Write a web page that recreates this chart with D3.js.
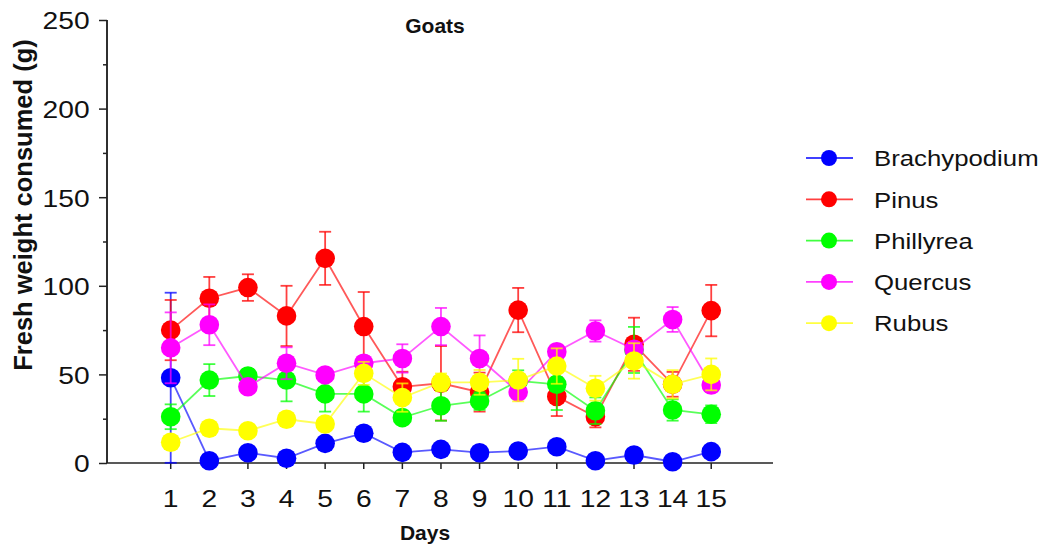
<!DOCTYPE html>
<html><head><meta charset="utf-8">
<script src="https://cdn.jsdelivr.net/npm/d3@7/dist/d3.min.js"></script>
<style>body{margin:0;background:#fff}svg{display:block}</style>
</head><body>
<svg id="c" width="1045" height="546"></svg>
<script>
const days = [1,2,3,4,5,6,7,8,9,10,11,12,13,14,15];
const seriesNames = ["Brachypodium","Pinus","Phillyrea","Quercus","Rubus"];
const seriesColors = ["#0000ff","#ff0000","#00ff00","#ff00ff","#ffff00"];
const brachypodium    = [48.1,1.3,5.8,2.7,11.1,16.8,6.0,7.7,5.8,6.8,9.2,1.3,4.5,0.7,6.4];
const brachypodiumErr = [48,2,2,2,2,2,2,2,2,2,2,2,2,2,2];
const pinus    = [75,93,99,83,115.5,77,43,45,40,86.3,37.5,26.1,67,44.4,86];
const pinusErr = [17,12,7.5,17,15,19.5,8.5,21,11,12.5,11,6,15,7,14.5];
const phillyrea    = [26.1,46.8,49.1,46.8,39,39,25.6,32.3,35,46.3,44.4,29.5,63.8,29.9,27.5];
const phillyreaErr = [7,9,4,12,10,10,4,8.5,5,6,14.5,7.5,13,6,5];
const quercus    = [65,78,43,56.3,49.7,56.3,59,77,59,40,62.8,74.5,64.2,81,44];
const quercusErr = [20,11.5,3,9,3,4,8,10.5,13,3,4,6,4,7,4];
const rubus    = [11.7,19.6,18.2,24.7,22,50.6,36.9,45.5,45.5,46.8,54.7,42.2,57.6,44.4,50];
const rubusErr = [2,2,2,2,2,6.5,8,5,7,12,10,7,10,8,9];
const yTicks = [0,50,100,150,200,250];
const yMinorTicks = [25,75,125,175,225];
const titleText = "Goats";
const xLabel = "Days";
const yLabel = "Fresh weight consumed (g)";

const values = [brachypodium,pinus,phillyrea,quercus,rubus];
const errors = [brachypodiumErr,pinusErr,phillyreaErr,quercusErr,rubusErr];
const order = [0,1,2,3,4];

const svg = d3.select("#c");
const x = d3.scaleLinear().domain([-0.65,16.6]).range([107,773]);
const y = d3.scaleLinear().domain([0,250]).range([463,20]);
const FONT = "'Liberation Sans', Arial, sans-serif";
const SX = 1.2;

// Y axis
const gy = svg.append("g").attr("transform","translate(107,0)");
gy.call(d3.axisLeft(y).tickValues(yTicks).tickSize(8).tickPadding(6.5).tickFormat(d3.format("d")));
gy.append("g").call(d3.axisLeft(y).tickValues(yMinorTicks).tickSize(4).tickFormat(""));
gy.selectAll(".domain").attr("d","M0,"+y(250)+"V"+y(0));
gy.selectAll("path,line").attr("stroke","#222").attr("stroke-width",1.5);
gy.selectAll("text").attr("font-family",FONT).attr("font-size",23.5).attr("fill","#111")
  .attr("transform","scale("+SX+",1)").attr("dy","0.38em");

// X axis
const gx = svg.append("g").attr("transform","translate(0,"+y(0)+")");
gx.call(d3.axisBottom(x).tickValues(days).tickSize(6).tickPadding(21).tickFormat(d3.format("d")));
gx.selectAll(".domain").attr("d","M"+x.range()[0]+",0H"+x.range()[1]);
gx.selectAll("path,line").attr("stroke","#222").attr("stroke-width",1.5);
gx.selectAll("text").attr("font-family",FONT).attr("font-size",23.5).attr("fill","#111");
gx.selectAll(".tick").each(function(d){
  d3.select(this).attr("transform","translate("+x(d)+",0)");
  d3.select(this).select("text").attr("transform","scale("+SX+",1)");
});

// Series
const line = d3.line().x((d,i)=>x(days[i])).y(d=>y(d));
order.forEach(si=>{
  const g = svg.append("g");
  const col = seriesColors[si];
  g.append("path").attr("d",line(values[si])).attr("fill","none")
    .attr("stroke",col).attr("stroke-opacity",0.65).attr("stroke-width",1.8);
  values[si].forEach((v,i)=>{
    const e = errors[si][i];
    const cx = x(days[i]);
    const lo = Math.max(0,v-e), hi = v+e;
    g.append("line").attr("x1",cx).attr("x2",cx).attr("y1",y(lo)).attr("y2",y(hi))
      .attr("stroke",col).attr("stroke-opacity",0.75).attr("stroke-width",1.8);
    g.append("line").attr("x1",cx-6).attr("x2",cx+6).attr("y1",y(hi)).attr("y2",y(hi))
      .attr("stroke",col).attr("stroke-opacity",0.75).attr("stroke-width",1.8);
    if (v-e > 0) g.append("line").attr("x1",cx-6).attr("x2",cx+6).attr("y1",y(lo)).attr("y2",y(lo))
      .attr("stroke",col).attr("stroke-opacity",0.75).attr("stroke-width",1.8);
  });
  g.selectAll("circle").data(values[si]).join("circle")
    .attr("cx",(d,i)=>x(days[i])).attr("cy",d=>y(d)).attr("r",9.8).attr("fill",col);
});

// Title & labels
svg.append("text").attr("x",435).attr("y",33).attr("text-anchor","middle")
  .attr("font-family",FONT).attr("font-weight","bold").attr("font-size",21).attr("fill","#111").text(titleText);
svg.append("text").attr("x",425).attr("y",540).attr("text-anchor","middle")
  .attr("font-family",FONT).attr("font-weight","bold").attr("font-size",21).attr("fill","#111").text(xLabel);
svg.append("text").attr("transform","translate(32,205) rotate(-90)").attr("text-anchor","middle")
  .attr("font-family",FONT).attr("font-weight","bold").attr("font-size",25.5).attr("fill","#111").text(yLabel);

// Legend
const lg = svg.append("g");
seriesNames.forEach((name,i)=>{
  const ly = 158 + i*41.3;
  const col = seriesColors[i];
  lg.append("line").attr("x1",806).attr("x2",853).attr("y1",ly).attr("y2",ly)
    .attr("stroke",col).attr("stroke-opacity",0.75).attr("stroke-width",1.8);
  lg.append("circle").attr("cx",829).attr("cy",ly).attr("r",8).attr("fill",col);
  lg.append("text").attr("transform","translate(874,"+ly+") scale(1.12,1)").attr("dy","0.36em")
    .attr("font-family",FONT).attr("font-size",23).attr("fill","#111").text(name);
});
</script>
</body></html>
